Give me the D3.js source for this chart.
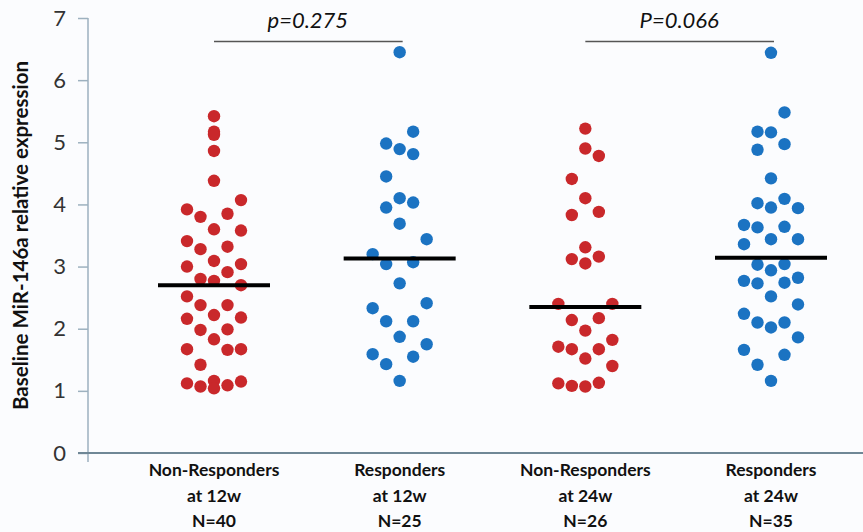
<!DOCTYPE html>
<html>
<head>
<meta charset="utf-8">
<script src="https://cdn.jsdelivr.net/npm/d3@7"></script>
<style>
  body { margin: 0; background: #fbfcfe; }
  svg { display: block; font-family: Lato, "Open Sans", sans-serif; }
</style>
</head>
<body>
<script>
// group labels
var groups = ["nr12", "r12", "nr24", "r24"];
var groupLabels = [
  ["Non-Responders", "at 12w", "N=40"],
  ["Responders", "at 12w", "N=25"],
  ["Non-Responders", "at 24w", "N=26"],
  ["Responders", "at 24w", "N=35"]
];
var groupColor = ["red", "blue", "red", "blue"];

// values, with the swarm column (-2..2) of each dot
var nr12Values = [5.42, 5.17, 5.12, 4.86, 4.38, 4.07, 3.92, 3.80, 3.85, 3.60, 3.58, 3.41, 3.28, 3.32,
  3.09, 3.04, 3.00, 2.91, 2.80, 2.77, 2.70, 2.52, 2.38, 2.38, 2.22, 2.18, 2.16, 1.98, 1.99, 1.83,
  1.67, 1.66, 1.67, 1.42, 1.12, 1.07, 1.16, 1.04, 1.09, 1.15];
var nr12Cols = [0, 0, 0, 0, 0, 2, -2, -1, 1, 0, 2, -2, -1, 1,
  0, 2, -2, 1, -1, 0, 2, -2, -1, 1, 0, 2, -2, -1, 1, 0,
  -2, 1, 2, -1, -2, -1, 0, 0, 1, 2];

var r12Values = [6.45, 5.17, 4.98, 4.89, 4.81, 4.45, 4.10, 4.03, 3.95, 3.69, 3.44, 3.20, 3.04, 3.07,
  2.73, 2.33, 2.41, 2.12, 2.12, 1.87, 1.75, 1.59, 1.55, 1.43, 1.16];
var r12Cols = [0, 1, -1, 0, 1, -1, 0, 1, -1, 0, 2, -2, -1, 1,
  0, -2, 2, -1, 1, 0, 2, -2, 1, -1, 0];

var nr24Values = [5.22, 4.90, 4.78, 4.41, 4.10, 3.83, 3.88, 3.31, 3.12, 3.16, 3.05, 2.40, 2.40, 2.14,
  2.17, 1.97, 1.82, 1.71, 1.67, 1.67, 1.52, 1.40, 1.12, 1.08, 1.07, 1.13];
var nr24Cols = [0, 0, 1, -1, 0, -1, 1, 0, -1, 1, 0, -2, 2, -1,
  1, 0, 2, -2, -1, 1, 0, 2, -2, -1, 0, 1];

var r24Values = [6.44, 5.48, 5.17, 5.16, 4.97, 4.88, 4.42, 4.09, 4.02, 3.95, 3.94, 3.67, 3.63, 3.64,
  3.36, 3.44, 3.44, 3.03, 3.04, 2.94, 2.77, 2.73, 2.74, 2.82, 2.52, 2.39, 2.24, 2.10, 2.02, 2.10,
  1.86, 1.66, 1.58, 1.42, 1.16];
var r24Cols = [0, 1, -1, 0, 1, -1, 0, 1, -1, 0, 2, -2, -1, 1,
  -2, 0, 2, -1, 1, 0, -2, -1, 1, 2, 0, 2, -2, -1, 0, 1,
  2, -2, 1, -1, 0];

// group means (horizontal bars)
var groupMeans = [2.70, 3.13, 2.35, 3.14];

// comparisons: [from group, to group, label]
var comparisons = [["nr12", "r12", "p=0.275"], ["nr24", "r24", "P=0.066"]];

var yTicks = [0, 1, 2, 3, 4, 5, 6, 7];

var width = 863, height = 532;
var margin = {top: 18, right: 0, bottom: 79, left: 88};
var colors = {red: "#c9282b", blue: "#1b73c2"};

var svg = d3.select("body").append("svg")
  .attr("width", width)
  .attr("height", height);

var x = d3.scalePoint()
  .domain(groups)
  .range([214, 771]);

var y = d3.scaleLinear()
  .domain([0, 7])
  .range([height - margin.bottom, margin.top]);

// swarm column offset
var col = d3.scaleLinear().domain([-2, 2]).range([-27, 27]);

var series = [
  [nr12Values, nr12Cols],
  [r12Values, r12Cols],
  [nr24Values, nr24Cols],
  [r24Values, r24Cols]
];

// y axis
var yAxis = svg.append("g")
  .attr("transform", "translate(" + margin.left + ",0)")
  .call(d3.axisLeft(y).tickValues(yTicks).tickSize(10).tickPadding(12).tickFormat(d3.format("d")));
yAxis.select(".domain")
  .attr("stroke", "#9db1bf")
  .attr("stroke-width", 1.5)
  .attr("d", "M0," + y(7) + "V" + (y(0) + 9));
yAxis.selectAll(".tick line").attr("stroke", "#9db1bf").attr("stroke-width", 1.5);
yAxis.selectAll(".tick text")
  .attr("fill", "#333")
  .style("font-size", "22px")
  .style("font-family", "Lato, sans-serif");

// x axis line
svg.append("line")
  .attr("x1", margin.left - 10)
  .attr("x2", width)
  .attr("y1", y(0))
  .attr("y2", y(0))
  .attr("stroke", "#6f8796")
  .attr("stroke-width", 2);

// y label
svg.append("text")
  .attr("transform", "translate(28," + ((y(0) + y(7)) / 2) + ")rotate(-90)")
  .attr("text-anchor", "middle")
  .style("font-size", "20.5px")
  .style("font-weight", "bold")
  .attr("fill", "#111")
  .text("Baseline MiR-146a relative expression");

// group labels
var lab = svg.append("g").selectAll("text")
  .data(groups)
  .enter().append("text")
  .attr("x", function(d) { return x(d); })
  .attr("y", 476)
  .attr("text-anchor", "middle")
  .style("font-size", "17.5px")
  .style("font-weight", "bold")
  .attr("fill", "#111");
lab.selectAll("tspan")
  .data(function(d, i) { return groupLabels[i]; })
  .enter().append("tspan")
  .attr("x", function() { return x(this.parentNode.__data__); })
  .attr("dy", function(d, i) { return i ? 25.5 : 0; })
  .text(function(d) { return d; });

// dots
series.forEach(function(s, gi) {
  var pts = s[0].map(function(v, i) { return {v: v, c: s[1][i]}; });
  svg.append("g").selectAll("circle")
    .data(pts)
    .enter().append("circle")
    .attr("cx", function(d) { return x(groups[gi]) + col(d.c); })
    .attr("cy", function(d) { return y(d.v); })
    .attr("r", 6.2)
    .attr("fill", colors[groupColor[gi]]);
});

// mean bars
svg.append("g").selectAll("line")
  .data(groupMeans)
  .enter().append("line")
  .attr("x1", function(d, i) { return x(groups[i]) - 56; })
  .attr("x2", function(d, i) { return x(groups[i]) + 56; })
  .attr("y1", function(d) { return y(d); })
  .attr("y2", function(d) { return y(d); })
  .attr("stroke", "#000")
  .attr("stroke-width", 4);

// p-value brackets
var cmp = svg.append("g").selectAll("g")
  .data(comparisons)
  .enter().append("g");
cmp.append("line")
  .attr("x1", function(d) { return x(d[0]); })
  .attr("x2", function(d) { return x(d[1]) + 3; })
  .attr("y1", 41.5)
  .attr("y2", 41.5)
  .attr("stroke", "#555")
  .attr("stroke-width", 1.5);
cmp.append("text")
  .attr("x", function(d) { return (x(d[0]) + x(d[1])) / 2 + 1; })
  .attr("y", 28)
  .attr("text-anchor", "middle")
  .style("font-size", "22px")
  .style("font-style", "italic")
  .attr("fill", "#111")
  .text(function(d) { return d[2]; });
</script>
</body>
</html>
